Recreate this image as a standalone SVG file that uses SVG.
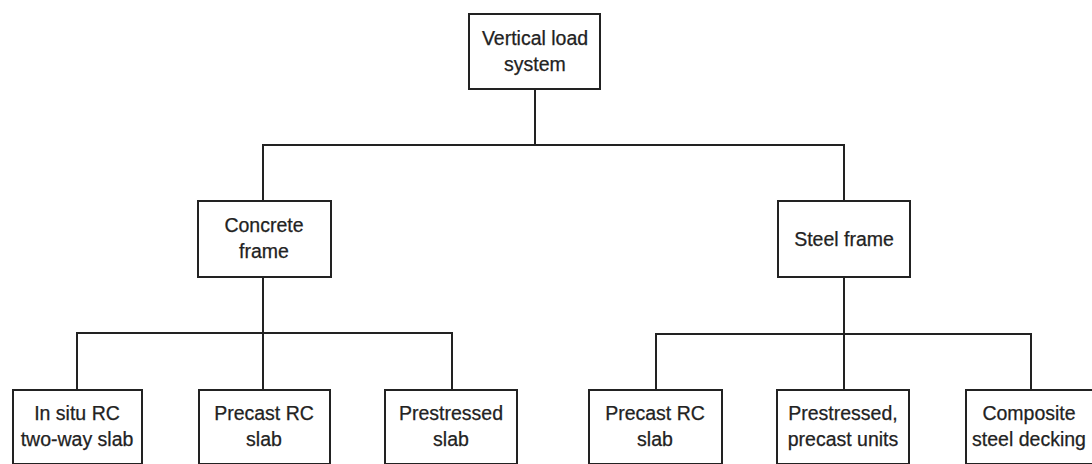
<svg xmlns="http://www.w3.org/2000/svg" width="1092" height="464" viewBox="0 0 1092 464">
<style>
.box{fill:#fff;stroke:#222;stroke-width:2}
.lbl{font-family:"Liberation Sans",Arial,sans-serif;font-size:19.5px;fill:#222;stroke:#222;stroke-width:0.25;text-anchor:middle}
.conn{fill:none;stroke:#222;stroke-width:2}
</style>
<rect width="1092" height="464" fill="#fff"/>
<g id="connectors">
<path class="conn" d="M535 89V145M263 201V145H844V201"/>
<path class="conn" d="M263 277V333M77 390V333H452V390M263 333V390"/>
<path class="conn" d="M844 277V334M656 390V334H1031V390M844 334V390"/>
</g>
<g id="n-vertical"><rect class="box" x="469" y="14" width="131" height="75"/><text class="lbl" x="535" y="45">Vertical load</text><text class="lbl" x="535" y="71">system</text></g>
<g id="n-concrete"><rect class="box" x="198" y="201" width="133" height="76"/><text class="lbl" x="264" y="232">Concrete</text><text class="lbl" x="264" y="258">frame</text></g>
<g id="n-steel"><rect class="box" x="778" y="201" width="132" height="76"/><text class="lbl" x="844" y="246">Steel frame</text></g>
<g id="n-insitu"><rect class="box" x="13" y="390" width="129" height="74"/><text class="lbl" x="77" y="420">In situ RC</text><text class="lbl" x="77" y="446">two-way slab</text></g>
<g id="n-precast1"><rect class="box" x="199" y="390" width="131" height="74"/><text class="lbl" x="264" y="420">Precast RC</text><text class="lbl" x="264" y="446">slab</text></g>
<g id="n-prestressed"><rect class="box" x="385" y="390" width="132" height="74"/><text class="lbl" x="451" y="420">Prestressed</text><text class="lbl" x="451" y="446">slab</text></g>
<g id="n-precast2"><rect class="box" x="589" y="390" width="133" height="74"/><text class="lbl" x="655" y="420">Precast RC</text><text class="lbl" x="655" y="446">slab</text></g>
<g id="n-prestressed2"><rect class="box" x="777" y="390" width="132" height="74"/><text class="lbl" x="843" y="420">Prestressed,</text><text class="lbl" x="843" y="446">precast units</text></g>
<g id="n-composite"><rect class="box" x="966" y="390" width="131" height="74"/><text class="lbl" x="1029" y="420">Composite</text><text class="lbl" x="1029" y="446">steel decking</text></g>
</svg>
